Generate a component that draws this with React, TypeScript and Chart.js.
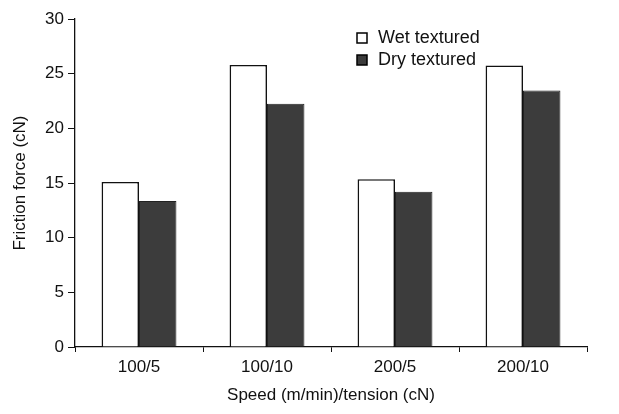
import React, { useEffect, useRef } from "react";
import { Chart, registerables } from "chart.js";

Chart.register(...registerables);

const categories = ["100/5", "100/10", "200/5", "200/10"];
const wetTextured = [15.1, 25.8, 15.35, 25.75];
const dryTextured = [13.35, 22.25, 14.2, 23.45];
const seriesLabels = ["Wet textured", "Dry textured"];
const yTicks = [0, 5, 10, 15, 20, 25, 30];

const FONT = "'Liberation Sans', Arial, sans-serif";

const legendPlugin = {
  id: "customLegend",
  afterDraw(chart: any) {
    const ctx = chart.ctx;
    const x0 = 362;
    const ys = [38, 60];
    ctx.save();
    chart.data.datasets.forEach((ds: any, i: number) => {
      const y = ys[i];
      ctx.fillStyle = ds.backgroundColor;
      ctx.strokeStyle = "#000";
      ctx.lineWidth = 1.5;
      ctx.fillRect(x0 - 5, y - 5, 10, 10);
      ctx.strokeRect(x0 - 5, y - 5, 10, 10);
      ctx.fillStyle = "#111";
      ctx.font = `18px ${FONT}`;
      ctx.textBaseline = "middle";
      ctx.textAlign = "left";
      ctx.fillText(ds.label, x0 + 16, y);
    });
    ctx.restore();
  },
};

export default function App() {
  const ref = useRef<HTMLCanvasElement | null>(null);
  useEffect(() => {
    document.body.style.margin = "0";
    if (!ref.current) return;
    const chart = new Chart(ref.current, {
      type: "bar",
      data: {
        labels: categories,
        datasets: [
          {
            label: seriesLabels[0],
            data: wetTextured,
            backgroundColor: "#ffffff",
            borderColor: "#111",
            borderWidth: 1.6,
          },
          {
            label: seriesLabels[1],
            data: dryTextured,
            backgroundColor: "#3c3c3c",
            borderColor: "#222",
            borderWidth: 1,
          },
        ],
      },
      options: {
        animation: false,
        responsive: false,
        devicePixelRatio: 1,
        layout: { padding: { top: 19, right: 32, left: 8, bottom: 0 } },
        datasets: { bar: { categoryPercentage: 0.585, barPercentage: 1.0 } },
        plugins: { legend: { display: false }, tooltip: { enabled: false } },
        scales: {
          x: {
            afterFit(scale: any) {
              scale.height = 67;
            },
            grid: {
              display: true,
              drawOnChartArea: false,
              drawTicks: true,
              tickLength: 5,
              color: "#111",
              offset: true,
            },
            border: { display: true, color: "#111", width: 1.3 },
            ticks: { color: "#111", font: { family: FONT, size: 17 }, padding: 5 },
            title: {
              display: true,
              text: "Speed (m/min)/tension (cN)",
              color: "#111",
              font: { family: FONT, size: 17 },
              padding: { top: 0, bottom: 8 },
            },
          },
          y: {
            min: 0,
            max: 30,
            afterBuildTicks(axis: any) {
              axis.ticks = yTicks.map((v) => ({ value: v }));
            },
            afterFit(scale: any) {
              scale.width = 67;
            },
            grid: {
              display: true,
              drawOnChartArea: false,
              drawTicks: true,
              tickLength: 7,
              color: "#111",
            },
            border: { display: true, color: "#111", width: 1.3 },
            ticks: { color: "#111", font: { family: FONT, size: 17 }, padding: 4 },
            title: {
              display: true,
              text: "Friction force (cN)",
              color: "#111",
              font: { family: FONT, size: 17 },
              padding: { top: 2, bottom: 0 },
            },
          },
        },
      },
      plugins: [legendPlugin],
    });
    return () => chart.destroy();
  }, []);
  return (
    <div style={{ width: 619, height: 414 }}>
      <canvas ref={ref} width={619} height={414} style={{ display: "block" }} />
    </div>
  );
}
